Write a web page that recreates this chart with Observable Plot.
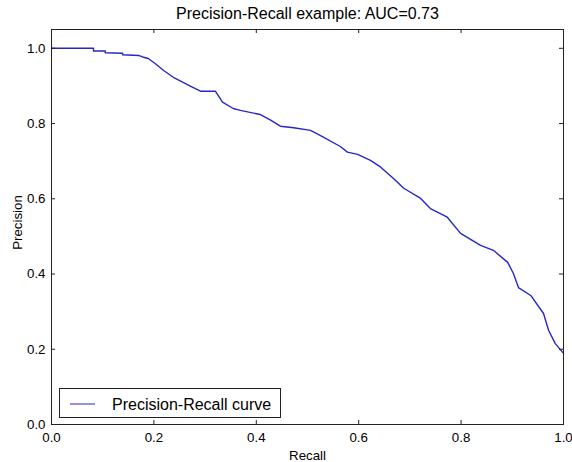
<!DOCTYPE html>
<html>
<head>
<meta charset="utf-8">
<script src="https://cdn.jsdelivr.net/npm/d3@7"></script>
<script src="https://cdn.jsdelivr.net/npm/@observablehq/plot@0.6"></script>
<style>
  html, body { margin: 0; padding: 0; background: #fff; }
  #chart svg { display: block; }
</style>
</head>
<body>
<div id="chart"></div>
<script>
const titleText = "Precision-Recall example: AUC=0.73";
const xLabel = "Recall";
const yLabel = "Precision";
const legendLabel = "Precision-Recall curve";
const xTicks = [0, 0.2, 0.4, 0.6, 0.8, 1.0];
const yTicks = [0, 0.2, 0.4, 0.6, 0.8, 1.0];

const recall = [0, 0.082, 0.082, 0.105, 0.105, 0.139, 0.139, 0.170, 0.178, 0.189,
  0.203, 0.219, 0.238, 0.256, 0.275, 0.291, 0.320, 0.334, 0.355, 0.369,
  0.408, 0.428, 0.447, 0.473, 0.506, 0.531, 0.564, 0.578, 0.598, 0.623,
  0.643, 0.668, 0.688, 0.721, 0.740, 0.773, 0.799, 0.838, 0.863, 0.891,
  0.902, 0.912, 0.936, 0.961, 0.971, 0.984, 1.0];
const precision = [1.0, 1.0, 0.993, 0.993, 0.988, 0.987, 0.983, 0.981, 0.977, 0.973,
  0.959, 0.941, 0.923, 0.910, 0.897, 0.886, 0.886, 0.857, 0.840, 0.835,
  0.824, 0.809, 0.793, 0.789, 0.782, 0.764, 0.739, 0.724, 0.718, 0.702,
  0.684, 0.654, 0.628, 0.601, 0.574, 0.551, 0.508, 0.476, 0.463, 0.431,
  0.402, 0.364, 0.343, 0.295, 0.250, 0.215, 0.189];

const data = recall.map((r, i) => ({recall: r, precision: precision[i]}));
const fmt = d3.format(".1f");
const font = "'Liberation Sans', Arial, Helvetica, sans-serif";
const lineColor = "#2626cc";
const W = 572, H = 462, mT = 29, mR = 9, mB = 38, mL = 51;
const fw = W - mL - mR, fh = H - mT - mB, tk = 4;

const plot = Plot.plot({
  width: W,
  height: H,
  marginTop: mT,
  marginRight: mR,
  marginBottom: mB,
  marginLeft: mL,
  style: {fontFamily: font, fontSize: "13.3px", color: "#000", background: "#fff"},
  x: {domain: [0, 1], label: null},
  y: {domain: [0, 1.05], label: null},
  marks: [
    Plot.line(data, {x: "recall", y: "precision", stroke: lineColor, strokeWidth: 1.4}),
    Plot.frame({stroke: "#222", strokeWidth: 1}),
    Plot.axisX({anchor: "bottom", ticks: xTicks, tickSize: 0, tickPadding: 8, tickFormat: fmt, fontSize: 13.3, fill: "#000"}),
    Plot.axisY({anchor: "left", ticks: yTicks, tickSize: 0, tickPadding: 6, tickFormat: fmt, fontSize: 13.3, fill: "#000"}),
    // inward ticks on all four sides
    Plot.tickX(xTicks, {x: d => d, insetTop: fh - tk, stroke: "#222"}),
    Plot.tickX(xTicks, {x: d => d, insetBottom: fh - tk, stroke: "#222"}),
    Plot.tickY(yTicks, {y: d => d, insetRight: fw - tk, stroke: "#222"}),
    Plot.tickY(yTicks, {y: d => d, insetLeft: fw - tk, stroke: "#222"}),
    Plot.text([titleText], {text: d => d, frameAnchor: "top", dy: -16, lineAnchor: "middle", fontSize: 16, fill: "#000"}),
    Plot.text([xLabel], {text: d => d, frameAnchor: "bottom", dy: 31, lineAnchor: "middle", fontSize: 13.3, fill: "#000"})
  ]
});

const svg = d3.select(plot);
// y axis label
svg.append("text")
  .attr("transform", `translate(17,${mT + fh / 2 - 4}) rotate(-90)`)
  .attr("text-anchor", "middle").attr("dy", "0.35em")
  .attr("font-size", 13.3).attr("font-family", font).attr("fill", "#000")
  .text(yLabel);

// Legend (matplotlib style box, lower left)
const lg = svg.append("g").attr("class", "legend");
lg.append("rect").attr("x", 59.5).attr("y", 388.5).attr("width", 221).attr("height", 29)
  .attr("fill", "#fff").attr("stroke", "#222").attr("stroke-width", 1);
lg.append("line").attr("x1", 70).attr("x2", 95).attr("y1", 404).attr("y2", 404)
  .attr("stroke", lineColor).attr("stroke-width", 1);
lg.append("text").attr("x", 112).attr("y", 404).attr("dy", "0.35em")
  .attr("text-anchor", "start")
  .attr("font-size", 16).attr("font-family", font).attr("fill", "#000").text(legendLabel);

document.getElementById("chart").appendChild(plot);
</script>
</body>
</html>
